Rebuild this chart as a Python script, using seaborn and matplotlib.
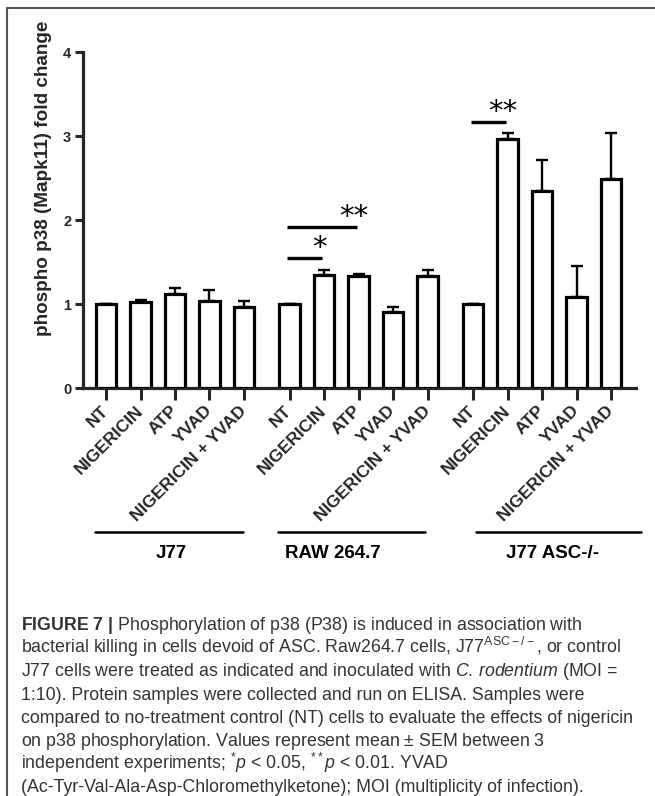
import numpy as np
import pandas as pd
import matplotlib
matplotlib.use("Agg")
import matplotlib.pyplot as plt
import seaborn as sns
from matplotlib import font_manager
from matplotlib.lines import Line2D

# ---------------- data ----------------
treatments = ["NT", "NIGERICIN", "ATP", "YVAD", "NIGERICIN + YVAD"]
cell_lines = ["J77", "RAW 264.7", "J77 ASC-/-"]
j77_mean = [1.00, 1.02, 1.12, 1.03, 0.97]
j77_sem = [0.00, 0.03, 0.07, 0.14, 0.06]
raw_mean = [1.00, 1.35, 1.33, 0.91, 1.33]
raw_sem = [0.00, 0.06, 0.03, 0.06, 0.08]
asc_mean = [1.00, 2.97, 2.34, 1.08, 2.49]
asc_sem = [0.00, 0.07, 0.38, 0.37, 0.55]
y_ticks = [0, 1, 2, 3, 4]
# significance: (cell line, reference, compared, bracket level, label)
sig_pairs = [("RAW 264.7", "NT", "NIGERICIN", 1.55, "*"),
             ("RAW 264.7", "NT", "ATP", 1.92, "**"),
             ("J77 ASC-/-", "NT", "NIGERICIN", 3.17, "**")]

caption_lines = [
    r"$\mathbf{FIGURE\ 7\ |}$ Phosphorylation of p38 (P38) is induced in association with",
    r"bacterial killing in cells devoid of ASC. Raw264.7 cells, J77$^{\mathrm{ASC}-/-}$, or control",
    r"J77 cells were treated as indicated and inoculated with $\mathit{C.}\,\mathit{rodentium}$ (MOI =",
    r"1:10). Protein samples were collected and run on ELISA. Samples were",
    r"compared to no-treatment control (NT) cells to evaluate the effects of nigericin",
    r"on p38 phosphorylation. Values represent mean $\pm$ SEM between 3",
    r"independent experiments; ${}^{*}\mathit{p}$ < 0.05, ${}^{**}\mathit{p}$ < 0.01. YVAD",
    r"(Ac-Tyr-Val-Ala-Asp-Chloromethylketone); MOI (multiplicity of infection).",
]

# ---------------- style ----------------
sns.set_style("ticks")
names = {f.name for f in font_manager.fontManager.ttflist}
main_font = "Liberation Sans"
cap_font = "Liberation Sans Narrow" if "Liberation Sans Narrow" in names else "Liberation Sans"
cap_size = 14.5 if cap_font == "Liberation Sans Narrow" else 12.8
plt.rcParams["font.family"] = [main_font, "DejaVu Sans"]
plt.rcParams["mathtext.fontset"] = "custom"
plt.rcParams["mathtext.rm"] = cap_font
plt.rcParams["mathtext.it"] = cap_font + ":italic"
plt.rcParams["mathtext.bf"] = cap_font + ":bold"

W, H = 655, 796
fig = plt.figure(figsize=(W / 100, H / 100), dpi=100)
fig.patch.set_facecolor("white")

def fx(px):
    return px / W

def fy(py):
    return 1 - py / H

ax = fig.add_axes([fx(83), fy(388), fx(636) - fx(83), fy(52) - fy(388)])

# ---------------- bars ----------------
group_gap = 5.32
means = [j77_mean, raw_mean, asc_mean]
sems = [j77_sem, raw_sem, asc_sem]
rows = []
for g, cl in enumerate(cell_lines):
    for i, tr in enumerate(treatments):
        rows.append({"cell": cl, "treatment": tr, "pos": g * group_gap + i,
                     "mean": means[g][i], "sem": sems[g][i]})
df = pd.DataFrame(rows)

ax.errorbar(df["pos"], df["mean"], yerr=[np.zeros(len(df)), df["sem"]],
            fmt="none", ecolor="black", elinewidth=1.7, capsize=4.3,
            capthick=1.7, zorder=1)
sns.barplot(data=df, x="pos", y="mean", native_scale=True, width=0.6,
            color="white", saturation=1, edgecolor="black", linewidth=2.3,
            errorbar=None, ax=ax, zorder=3)

ax.set_xlim((83 - 106) / 34.5, (636 - 106) / 34.5)
ax.set_ylim(0, 4)
ax.set_yticks(y_ticks)
ax.set_yticklabels([str(t) for t in y_ticks], fontsize=10.5, fontweight="bold")
ax.set_xticks(df["pos"])
ax.set_xticklabels(df["treatment"], rotation=45, ha="right", va="center",
                   rotation_mode="anchor", fontsize=12.5, fontweight="bold")
ax.tick_params(axis="x", length=8.5, width=2.2, pad=6, direction="out")
ax.tick_params(axis="y", length=6, width=2.2, pad=2.5, direction="out")
ax.set_xlabel("")
ax.set_ylabel("phospho p38 (Mapk11) fold change", fontsize=13.6, fontweight="bold")
ax.yaxis.set_label_coords(-0.056, 0.6235)
sns.despine(ax=ax)
for s in ("left", "bottom"):
    ax.spines[s].set_linewidth(2.3)

# ---------------- significance ----------------
for cl, a, b, level, lab in sig_pairs:
    sub = df[df["cell"] == cl].set_index("treatment")
    x0 = sub.loc[a, "pos"] - 0.07
    x1 = sub.loc[b, "pos"] - 0.05
    ax.plot([x0, x1], [level, level], color="black", lw=2.4, solid_capstyle="butt",
            clip_on=False)
    ax.text(x1 - 0.08, level + 0.02, lab, ha="center", va="baseline",
            fontsize=21, family="DejaVu Sans", color="black")

# ---------------- group lines / labels ----------------
groups_px = [(95, 243, 171), (278, 425, 333), (476, 641, 553)]
for (xa, xb, xc), cl in zip(groups_px, cell_lines):
    fig.add_artist(Line2D([fx(xa), fx(xb)], [fy(532), fy(532)],
                          transform=fig.transFigure, color="black", lw=1.8))
    fig.text(fx(xc), fy(558.5), cl, ha="center", va="baseline",
             fontsize=13.5, fontweight="bold", color="black")

# ---------------- caption ----------------
for k, line in enumerate(caption_lines):
    fig.text(fx(21), fy(630 + 23.2 * k), line, ha="left", va="baseline",
             fontsize=cap_size, family=[cap_font, "DejaVu Sans"], color="#333333")

# ---------------- frame ----------------
fig.add_artist(Line2D([fx(7), fx(7)], [0, fy(8)], transform=fig.transFigure,
                      color="#555555", lw=1.5))
fig.add_artist(Line2D([fx(7), 1], [fy(8), fy(8)], transform=fig.transFigure,
                      color="#555555", lw=1.5))

fig.savefig("out.png", dpi=100, facecolor="white")
